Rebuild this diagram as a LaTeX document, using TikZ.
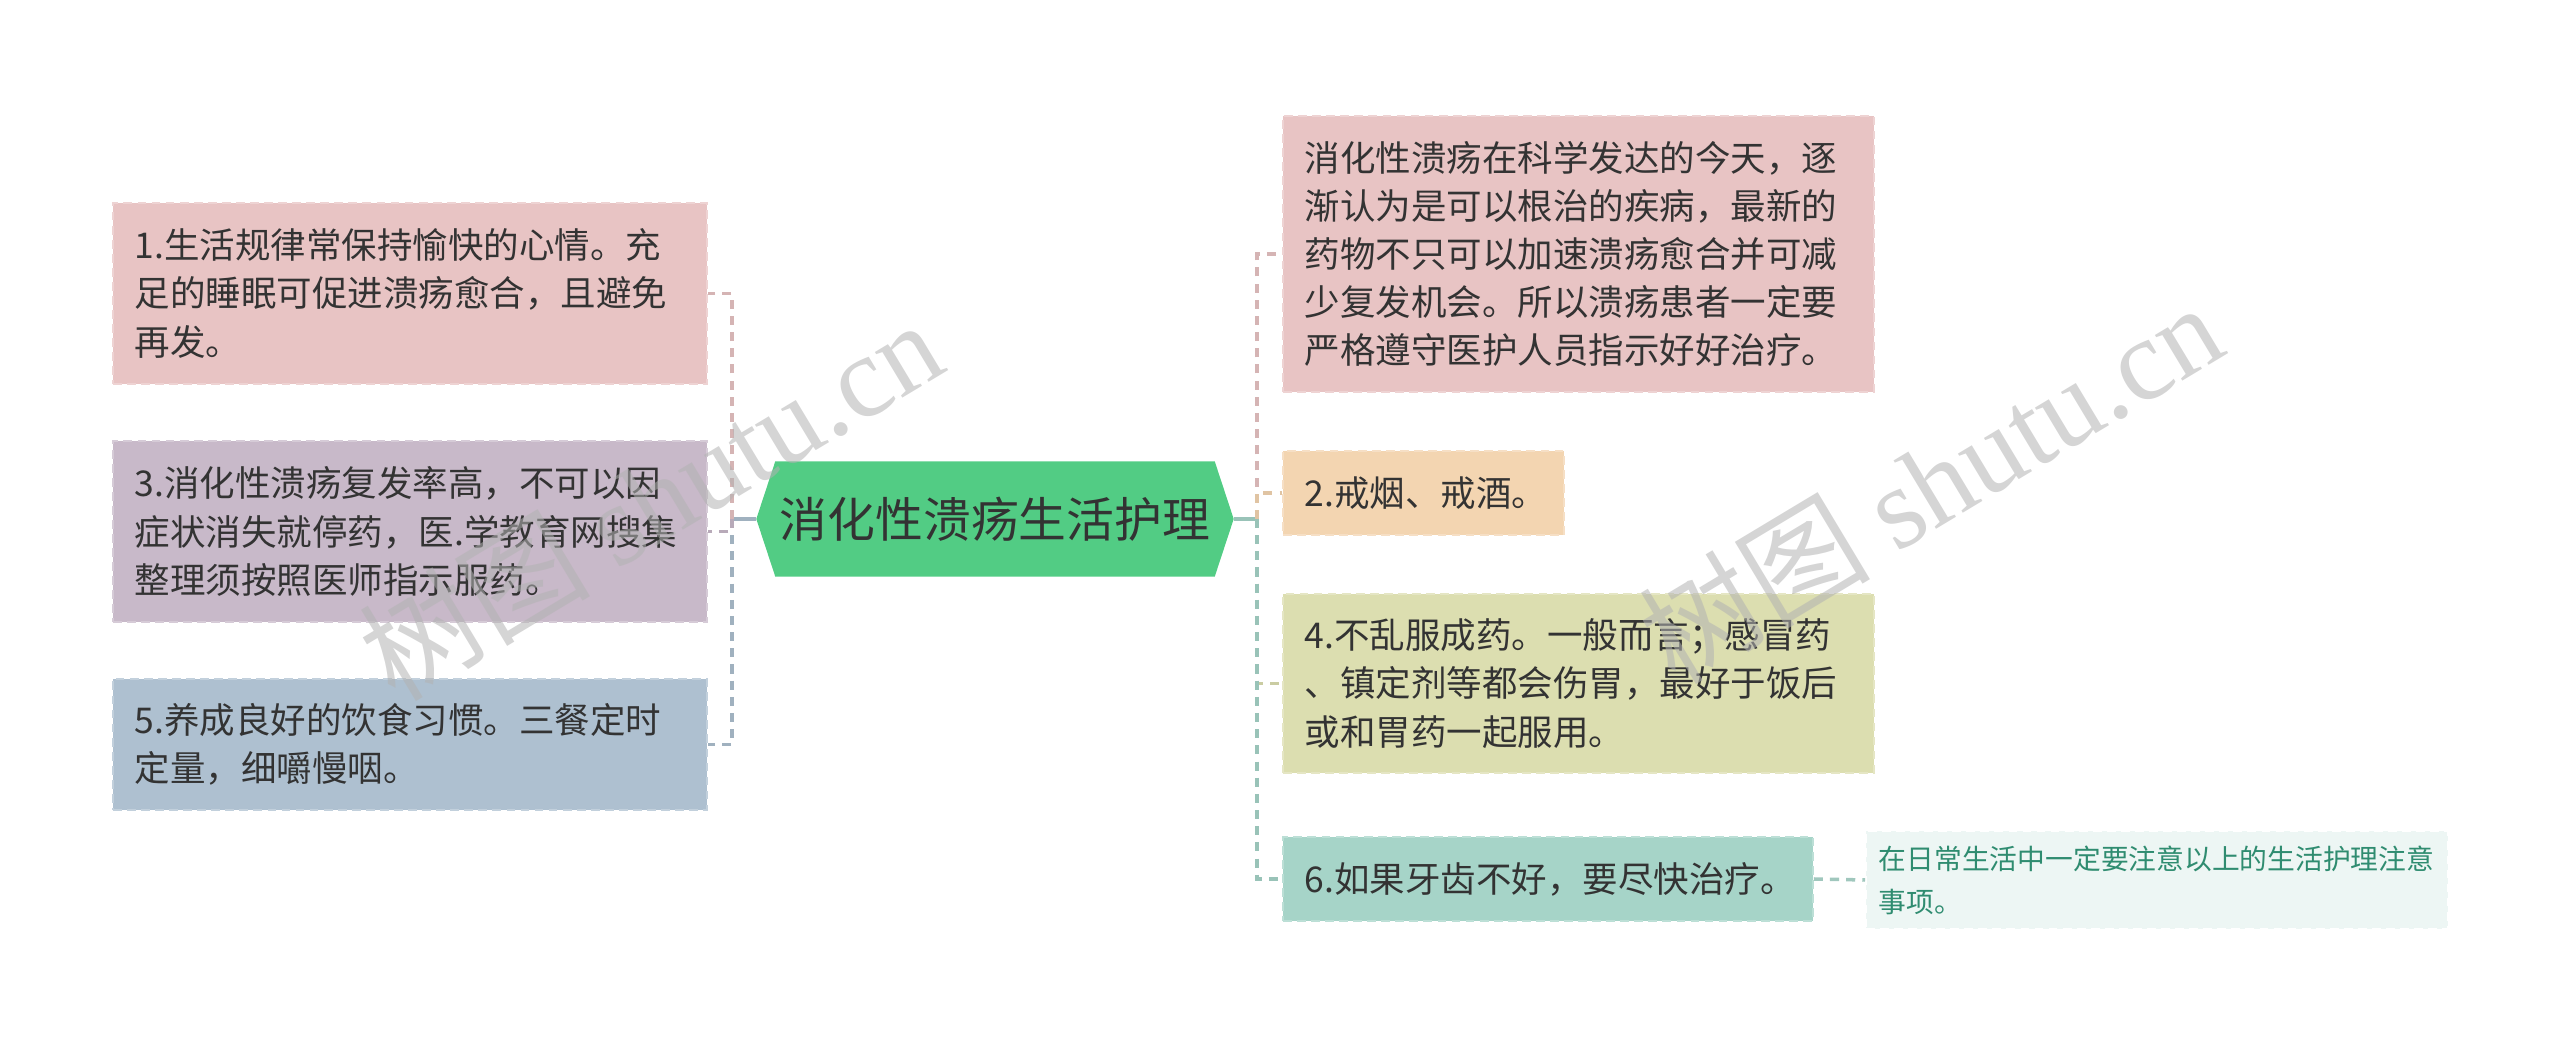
\documentclass[tikz,border=0pt]{standalone}
\usepackage{fontspec}
\setmainfont{Noto Sans CJK SC}
\newfontfamily\stampfont{Liberation Serif}
\usetikzlibrary{
  positioning,
  calc,
  backgrounds
}
\definecolor{rosePink}{HTML}{E8C4C4}
\definecolor{greyMauve}{HTML}{C8B9C9}
\definecolor{steelGrey}{HTML}{AEC0D0}
\definecolor{peach}{HTML}{F3D5B1}
\definecolor{paleOlive}{HTML}{DCDEB0}
\definecolor{seaTeal}{HTML}{A6D4C8}
\definecolor{mintWhite}{HTML}{EDF6F4}
\definecolor{noteText}{HTML}{2F8C70}
\definecolor{rootGreen}{HTML}{52CC84}
\definecolor{inkGrey}{HTML}{333333}
\tikzset{
  leaf/.style={
    fill=#1,
    draw=#1!75!white,
    dash pattern=on 2.5pt off 1.5pt,
    line width=0.5pt,
    inner xsep=0.22cm,
    inner ysep=0pt,
    align=left,
    anchor=west,
    text=inkGrey
  }
}

\begin{document}
\begin{tikzpicture}[
      font=\fontsize{10.1pt}{13.7pt}\selectfont,
      branch/.style={line width=1pt, dash pattern=on 2.6pt off 2pt},
      trunk/.style={line width=1pt},
      stamp/.style={text=black!30, opacity=0.55, rotate=31,
        font=\fontsize{33pt}{33pt}\selectfont}
      ]
      \useasboundingbox (0,0) rectangle (25.6,-10.46);

      % centre
      \node[inner sep=0pt, minimum width=4.76cm, minimum height=1.14cm,
        text=inkGrey, font=\fontsize{13.6pt}{16pt}\selectfont]
        (root) at (9.95,-5.19) {消化性溃疡生活护理};
      \begin{scope}[on background layer]
        \fill[rootGreen] ($(root.north west)+(0.19,0)$) -- ($(root.north east)+(-0.19,0)$)
          -- (root.east) -- ($(root.south east)+(-0.19,0)$)
          -- ($(root.south west)+(0.19,0)$) -- (root.west) -- cycle;
      \end{scope}

      % left side
      \node[leaf=rosePink, text width=5.50cm, minimum height=1.81cm] (b1) at (1.12,-2.935)
        {1.生活规律常保持愉快的心情。充\\足的睡眠可促进溃疡愈合，且避免\\再发。};
      \node[leaf=greyMauve, text width=5.50cm, minimum height=1.81cm] (b3) at (1.12,-5.315)
        {3.消化性溃疡复发率高，不可以因\\症状消失就停药，医.学教育网搜集\\整理须按照医师指示服药。};
      \node[leaf=steelGrey, text width=5.50cm, minimum height=1.31cm] (b5) at (1.12,-7.445)
        {5.养成良好的饮食习惯。三餐定时\\定量，细嚼慢咽。};

      % right side
      \node[leaf=rosePink, text width=5.47cm, minimum height=2.76cm] (r1) at (12.82,-2.54)
        {消化性溃疡在科学发达的今天，逐\\渐认为是可以根治的疾病，最新的\\药物不只可以加速溃疡愈合并可减\\少复发机会。所以溃疡患者一定要\\严格遵守医护人员指示好好治疗。};
      \node[leaf=peach, text width=2.37cm, minimum height=0.84cm] (r2) at (12.82,-4.93)
        {2.戒烟、戒酒。};
      \node[leaf=paleOlive, text width=5.47cm, minimum height=1.79cm] (r4) at (12.82,-6.835)
        {4.不乱服成药。一般而言；感冒药\\、镇定剂等都会伤胃，最好于饭后\\或和胃药一起服用。};
      \node[leaf=seaTeal, text width=4.86cm, minimum height=0.84cm] (r6) at (12.82,-8.79)
        {6.如果牙齿不好，要尽快治疗。};
      \node[leaf=mintWhite, draw=white, text=noteText, inner xsep=0.13cm,
        text width=5.56cm, minimum height=0.98cm,
        font=\fontsize{7.9pt}{12.2pt}\selectfont] (note) at (18.65,-8.80)
        {在日常生活中一定要注意以上的生活护理注意\\事项。};

      % connectors
      \coordinate (lsplit) at (7.32,-5.19);
      \coordinate (rsplit) at (12.57,-5.19);
      \draw[trunk, steelGrey!92!black] (root.west) -- (lsplit);
      \draw[trunk, seaTeal!92!black] (root.east) -- (rsplit);
      \foreach \n/\c in {b1/rosePink, b5/steelGrey, b3/greyMauve}{
        \draw[branch, \c!92!black] (lsplit) |- (\n.east);
      }
      \foreach \n/\c in {r1/rosePink, r2/peach, r4/paleOlive, r6/seaTeal}{
        \draw[branch, \c!92!black] (rsplit) |- (\n.west);
      }
      \draw[branch, seaTeal!85!gray] (r6.east) -- (note.west);

      % watermarks
      \node[stamp] (wm1) at (6.50,-4.99) {树图 {\stampfont shutu.cn}};
      \node[stamp] (wm2) at (19.30,-4.82) {树图 {\stampfont shutu.cn}};
    \end{tikzpicture}
\end{document}
